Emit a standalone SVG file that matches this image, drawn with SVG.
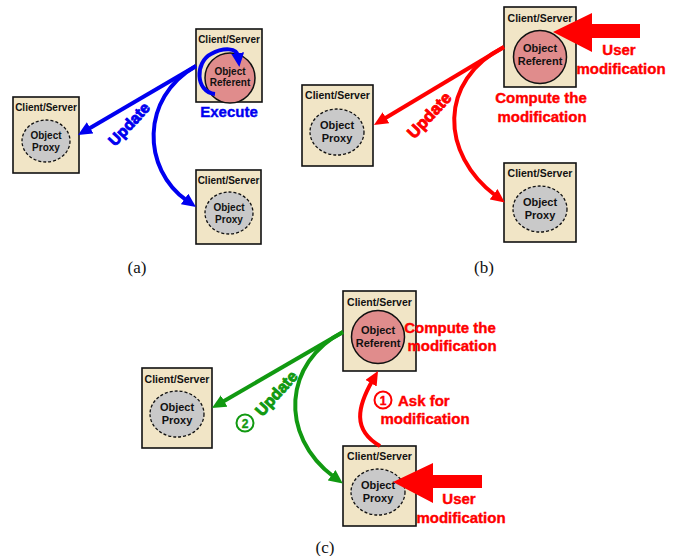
<svg xmlns="http://www.w3.org/2000/svg" width="677" height="556" viewBox="0 0 677 556">
<style>
.box{fill:#f1e5c6;stroke:#111;stroke-width:1.6}
.ref{fill:#e08c8c;stroke:#111;stroke-width:1.5}
.prx{fill:#c9c9c9;stroke:#111;stroke-width:1.3;stroke-dasharray:3,2}
.t{font-family:"Liberation Sans",Arial,sans-serif;font-weight:bold;fill:#111;text-anchor:middle}
.cs{font-size:10.5px}
.cs9{font-size:10px}
.ob{font-size:11px}
.ob9{font-size:10px}
.lab{font-family:"Liberation Sans",Arial,sans-serif;font-weight:bold;font-size:15px;text-anchor:middle;stroke-width:0.4}
.upd{stroke-width:0.9}
.cap{font-family:"Liberation Serif","Times New Roman",serif;font-size:17px;text-anchor:middle;fill:#111}
.blue{fill:#0000f0;stroke:#0000f0}
.red{fill:#ff0000;stroke:#ff0000}
.green{fill:#119911;stroke:#119911}
.cb{fill:none;stroke:#0000f0;stroke-width:4}
.cr{fill:none;stroke:#ff0000;stroke-width:4}
.cg{fill:none;stroke:#119911;stroke-width:4}
</style>
<defs>
<marker id="ab" markerUnits="userSpaceOnUse" markerWidth="16" markerHeight="14" refX="3" refY="6.5" orient="auto"><path d="M0,0 L14,6.5 L0,13 z" fill="#0000f0"/></marker>
<marker id="ar" markerUnits="userSpaceOnUse" markerWidth="16" markerHeight="14" refX="3" refY="6.5" orient="auto"><path d="M0,0 L14,6.5 L0,13 z" fill="#ff0000"/></marker>
<marker id="ag" markerUnits="userSpaceOnUse" markerWidth="16" markerHeight="14" refX="3" refY="6.5" orient="auto"><path d="M0,0 L14,6.5 L0,13 z" fill="#119911"/></marker>
</defs>

<!-- Panel (a) -->
<g id="a-top">
<rect class="box" x="196" y="29" width="66" height="73"/>
<text class="t cs9" x="229" y="42.5">Client/Server</text>
<circle class="ref" cx="230" cy="78" r="25"/>
<text class="t ob9" x="230" y="75">Object</text>
<text class="t ob9" x="230" y="86">Referent</text>
</g>
<g id="a-left">
<rect class="box" x="13" y="97" width="66" height="76"/>
<text class="t cs9" x="46" y="110.5">Client/Server</text>
<ellipse class="prx" cx="46" cy="141" rx="24" ry="21"/>
<text class="t ob9" x="46" y="138.5">Object</text>
<text class="t ob9" x="46" y="150.5">Proxy</text>
</g>
<g id="a-bottom">
<rect class="box" x="196" y="170" width="65" height="74"/>
<text class="t cs9" x="228.5" y="183.5">Client/Server</text>
<ellipse class="prx" cx="229" cy="213" rx="24" ry="21"/>
<text class="t ob9" x="229" y="210.5">Object</text>
<text class="t ob9" x="229" y="222.5">Proxy</text>
</g>

<!-- Panel (b) -->
<g id="b-top">
<rect class="box" x="504" y="7" width="72" height="80"/>
<text class="t cs" x="540" y="21.5">Client/Server</text>
<circle class="ref" cx="540" cy="57" r="26.5"/>
<text class="t ob" x="540" y="52">Object</text>
<text class="t ob" x="540" y="64.5">Referent</text>
</g>
<g id="b-left">
<rect class="box" x="302" y="85" width="71" height="81"/>
<text class="t cs" x="337.5" y="99">Client/Server</text>
<ellipse class="prx" cx="337" cy="132" rx="27" ry="23"/>
<text class="t ob" x="337" y="129">Object</text>
<text class="t ob" x="337" y="142">Proxy</text>
</g>
<g id="b-bottom">
<rect class="box" x="504" y="163" width="72" height="79"/>
<text class="t cs" x="540" y="177">Client/Server</text>
<ellipse class="prx" cx="540" cy="209" rx="27" ry="23"/>
<text class="t ob" x="540" y="206">Object</text>
<text class="t ob" x="540" y="219">Proxy</text>
</g>

<!-- Panel (c) -->
<g id="c-top">
<rect class="box" x="343" y="291" width="73" height="80"/>
<text class="t cs" x="379.5" y="305.5">Client/Server</text>
<circle class="ref" cx="378" cy="337" r="26.5"/>
<text class="t ob" x="378" y="334">Object</text>
<text class="t ob" x="378" y="346.5">Referent</text>
</g>
<g id="c-left">
<rect class="box" x="142" y="368" width="70" height="80"/>
<text class="t cs" x="177" y="382.5">Client/Server</text>
<ellipse class="prx" cx="177" cy="414" rx="27" ry="23"/>
<text class="t ob" x="177" y="411">Object</text>
<text class="t ob" x="177" y="424">Proxy</text>
</g>
<g id="c-bottom">
<rect class="box" x="343" y="446" width="73" height="80"/>
<text class="t cs" x="379.5" y="459.5">Client/Server</text>
<ellipse class="prx" cx="378" cy="492" rx="27" ry="23"/>
<text class="t ob" x="378" y="488.5">Object</text>
<text class="t ob" x="378" y="501.5">Proxy</text>
</g>

<!-- Connectors -->
<g id="connectors">
<path class="cb" d="M196,66 L87.5,129.4" marker-end="url(#ab)"/>
<path class="cb" d="M196,66 C140,98 142,169 187,200.7" marker-end="url(#ab)"/>
<path class="cb" d="M215,94 C195,92 195,62 211,54 C224,47 237,48 238,56" marker-end="url(#ab)"/>
<path class="cr" d="M504,47 L383.4,119.3" marker-end="url(#ar)"/>
<path class="cr" d="M504,47 C438,80 440,154 496,196" marker-end="url(#ar)"/>
<polygon fill="#ff0000" points="640,24 592,24 592,13 553,32 592,52 592,38 640,38"/>
<path class="cg" d="M343,332 L221.5,402.5" marker-end="url(#ag)"/>
<path class="cg" d="M343,332 C284,362 278,435 334,477" marker-end="url(#ag)"/>
<path class="cr" d="M380,446 C352,430 357.5,406.6 372.5,380.6" marker-end="url(#ar)"/>
<polygon fill="#ff0000" points="482,475 433,475 433,463 393,482 433,503 433,488 482,488"/>
</g>

<!-- Labels -->
<g id="labels">
<text class="lab blue" x="229" y="117">Execute</text>
<text class="lab blue upd" style="font-size:15.5px" transform="translate(129,124) rotate(-47)" x="0" y="5.5">Update</text>
<text class="lab red" x="619" y="54.5">User</text>
<text class="lab red" x="621" y="73.5">modification</text>
<text class="lab red" x="541" y="102.5">Compute the</text>
<text class="lab red" x="542" y="121.5">modification</text>
<text class="lab red upd" style="font-size:16.5px" transform="translate(429,115) rotate(-47)" x="0" y="6">Update</text>
<text class="lab red" x="450" y="332.5">Compute the</text>
<text class="lab red" x="452" y="350.5">modification</text>
<circle cx="383" cy="400" r="8.5" fill="#fff" stroke="#ff0000" stroke-width="2"/>
<text class="lab red" style="font-size:12px" x="383" y="404.5">1</text>
<text class="lab red" style="text-anchor:start" x="398" y="405.5">Ask for</text>
<text class="lab red" x="425" y="423.5">modification</text>
<text class="lab red" x="459" y="503.5">User</text>
<text class="lab red" x="461" y="522.5">modification</text>
<circle cx="245" cy="423" r="8.5" fill="#fff" stroke="#119911" stroke-width="2"/>
<text class="lab green" style="font-size:12px" x="245" y="427.5">2</text>
<text class="lab green upd" style="font-size:16px" transform="translate(276,393) rotate(-48)" x="0" y="6">Update</text>
<text class="cap" x="137" y="273">(a)</text>
<text class="cap" x="484" y="273">(b)</text>
<text class="cap" x="325" y="553">(c)</text>
</g>
</svg>
